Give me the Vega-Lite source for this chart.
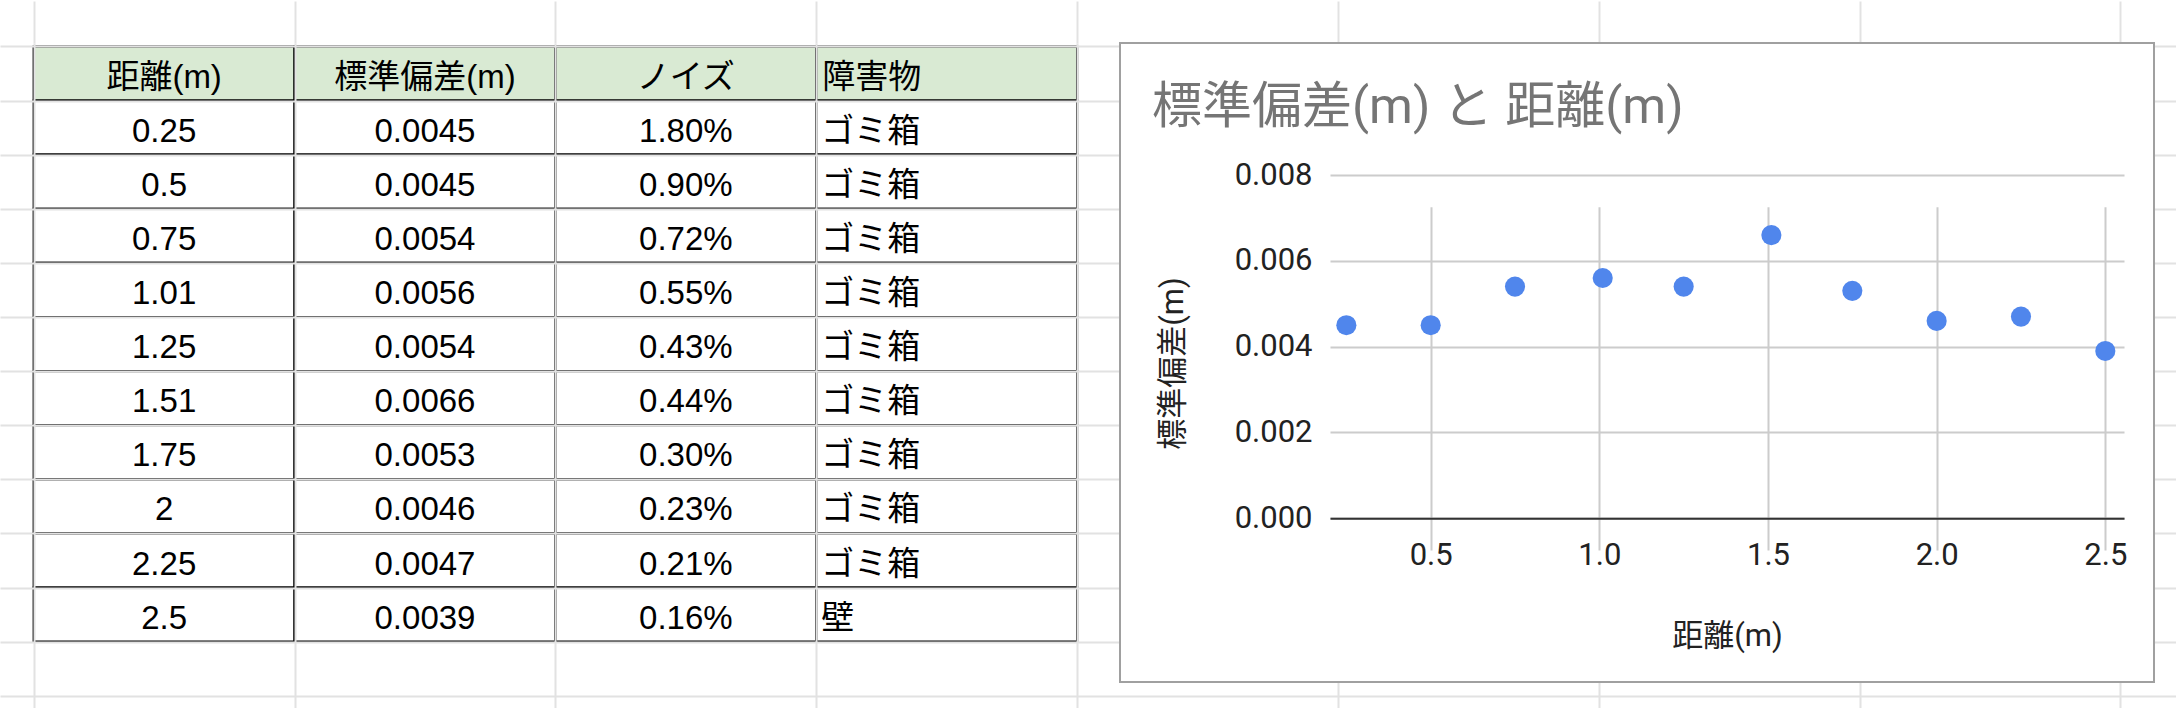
{
  "$schema": "https://vega.github.io/schema/vega-lite/v6.json",
  "background": "white",
  "padding": 0,
  "config": {"view": {"stroke": null}},
  "datasets": {
    "表": [
      {"距離(m)": 0.25, "標準偏差(m)": 0.0045, "ノイズ": 0.018, "障害物": "ゴミ箱"},
      {"距離(m)": 0.5, "標準偏差(m)": 0.0045, "ノイズ": 0.009, "障害物": "ゴミ箱"},
      {"距離(m)": 0.75, "標準偏差(m)": 0.0054, "ノイズ": 0.0072, "障害物": "ゴミ箱"},
      {"距離(m)": 1.01, "標準偏差(m)": 0.0056, "ノイズ": 0.0055, "障害物": "ゴミ箱"},
      {"距離(m)": 1.25, "標準偏差(m)": 0.0054, "ノイズ": 0.0043, "障害物": "ゴミ箱"},
      {"距離(m)": 1.51, "標準偏差(m)": 0.0066, "ノイズ": 0.0044, "障害物": "ゴミ箱"},
      {"距離(m)": 1.75, "標準偏差(m)": 0.0053, "ノイズ": 0.003, "障害物": "ゴミ箱"},
      {"距離(m)": 2, "標準偏差(m)": 0.0046, "ノイズ": 0.0023, "障害物": "ゴミ箱"},
      {"距離(m)": 2.25, "標準偏差(m)": 0.0047, "ノイズ": 0.0021, "障害物": "ゴミ箱"},
      {"距離(m)": 2.5, "標準偏差(m)": 0.0039, "ノイズ": 0.0016, "障害物": "壁"}
    ],
    "見出し": [
      {"見出し": "距離(m)"},
      {"見出し": "標準偏差(m)"},
      {"見出し": "ノイズ"},
      {"見出し": "障害物"}
    ]
  },
  "bounds": "flush",
  "spacing": 0,
  "hconcat": [
    {
      "width": 1120,
      "height": 665,
      "layer": [
        {
          "data": {"name": "見出し"},
          "mark": {"type": "rect", "fill": "#d9ead3", "stroke": "#000000", "strokeWidth": 2.2},
          "encoding": {
            "x": {"field": "見出し", "type": "nominal",
              "scale": {"type": "band", "domain": ["距離(m)", "標準偏差(m)", "ノイズ", "障害物", "F", "G", "H", "I"], "range": [0, 2176], "paddingInner": 0, "paddingOuter": 0.171, "align": 0.3778},
              "axis": {"orient": "top", "title": null, "labels": false, "domain": false, "ticks": true, "tickSize": 42, "tickWidth": 2, "tickColor": "#e2e2e2", "tickBand": "extent", "grid": true, "gridColor": "#e2e2e2", "gridWidth": 2, "minExtent": 0}},
            "y": {"datum": 0, "type": "ordinal",
              "scale": {"type": "band", "domain": [0, 1, 2, 3, 4, 5, 6, 7, 8, 9, 10, 11], "paddingInner": 0, "paddingOuter": 0.146, "align": 0.2215},
              "axis": {"title": null, "labels": false, "domain": false, "ticks": false, "tickBand": "extent", "grid": true, "gridColor": "#e2e2e2", "gridWidth": 2, "minExtent": 0, "maxExtent": 0}}
          }
        },
        {
          "data": {"name": "表"},
          "transform": [
            {"window": [{"op": "row_number", "as": "行"}]},
            {"fold": ["距離(m)", "標準偏差(m)", "ノイズ", "障害物"], "as": ["列", "値"]}
          ],
          "mark": {"type": "rect", "fill": "white", "stroke": "#000000", "strokeWidth": 2.2},
          "encoding": {
            "x": {"field": "列", "type": "nominal",
              "scale": {"type": "band", "domain": ["距離(m)", "標準偏差(m)", "ノイズ", "障害物", "F", "G", "H", "I"], "range": [0, 2176], "paddingInner": 0, "paddingOuter": 0.171, "align": 0.3778},
              "axis": {"orient": "top", "title": null, "labels": false, "domain": false, "ticks": true, "tickSize": 42, "tickWidth": 2, "tickColor": "#e2e2e2", "tickBand": "extent", "grid": true, "gridColor": "#e2e2e2", "gridWidth": 2, "minExtent": 0}},
            "y": {"field": "行", "type": "ordinal",
              "scale": {"type": "band", "domain": [0, 1, 2, 3, 4, 5, 6, 7, 8, 9, 10, 11], "paddingInner": 0, "paddingOuter": 0.146, "align": 0.2215},
              "axis": {"title": null, "labels": false, "domain": false, "ticks": false, "tickBand": "extent", "grid": true, "gridColor": "#e2e2e2", "gridWidth": 2, "minExtent": 0, "maxExtent": 0}}
          }
        },
        {
          "data": {"name": "見出し"},
          "transform": [{"filter": "datum['見出し'] !== '障害物'"}],
          "mark": {"type": "text", "font": "Liberation Sans, Noto Sans CJK JP", "fontSize": 33, "color": "#000000", "baseline": "alphabetic", "dy": -13},
          "encoding": {
            "x": {"field": "見出し", "type": "nominal",
              "scale": {"type": "band", "domain": ["距離(m)", "標準偏差(m)", "ノイズ", "障害物", "F", "G", "H", "I"], "range": [0, 2176], "paddingInner": 0, "paddingOuter": 0.171, "align": 0.3778},
              "axis": {"orient": "top", "title": null, "labels": false, "domain": false, "ticks": true, "tickSize": 42, "tickWidth": 2, "tickColor": "#e2e2e2", "tickBand": "extent", "grid": true, "gridColor": "#e2e2e2", "gridWidth": 2, "minExtent": 0}},
            "y": {"datum": 0, "type": "ordinal", "bandPosition": 1,
              "scale": {"type": "band", "domain": [0, 1, 2, 3, 4, 5, 6, 7, 8, 9, 10, 11], "paddingInner": 0, "paddingOuter": 0.146, "align": 0.2215},
              "axis": {"title": null, "labels": false, "domain": false, "ticks": false, "tickBand": "extent", "grid": true, "gridColor": "#e2e2e2", "gridWidth": 2, "minExtent": 0, "maxExtent": 0}},
            "text": {"field": "見出し", "type": "nominal"}
          }
        },
        {
          "data": {"name": "見出し"},
          "transform": [{"filter": "datum['見出し'] === '障害物'"}],
          "mark": {"type": "text", "font": "Liberation Sans, Noto Sans CJK JP", "fontSize": 33, "color": "#000000", "align": "left", "dx": 6, "baseline": "alphabetic", "dy": -13},
          "encoding": {
            "x": {"field": "見出し", "type": "nominal", "bandPosition": 0,
              "scale": {"type": "band", "domain": ["距離(m)", "標準偏差(m)", "ノイズ", "障害物", "F", "G", "H", "I"], "range": [0, 2176], "paddingInner": 0, "paddingOuter": 0.171, "align": 0.3778},
              "axis": {"orient": "top", "title": null, "labels": false, "domain": false, "ticks": true, "tickSize": 42, "tickWidth": 2, "tickColor": "#e2e2e2", "tickBand": "extent", "grid": true, "gridColor": "#e2e2e2", "gridWidth": 2, "minExtent": 0}},
            "y": {"datum": 0, "type": "ordinal", "bandPosition": 1,
              "scale": {"type": "band", "domain": [0, 1, 2, 3, 4, 5, 6, 7, 8, 9, 10, 11], "paddingInner": 0, "paddingOuter": 0.146, "align": 0.2215},
              "axis": {"title": null, "labels": false, "domain": false, "ticks": false, "tickBand": "extent", "grid": true, "gridColor": "#e2e2e2", "gridWidth": 2, "minExtent": 0, "maxExtent": 0}},
            "text": {"field": "見出し", "type": "nominal"}
          }
        },
        {
          "data": {"name": "表"},
          "transform": [
            {"window": [{"op": "row_number", "as": "行"}]},
            {"fold": ["距離(m)", "標準偏差(m)"], "as": ["列", "値"]}
          ],
          "mark": {"type": "text", "font": "Liberation Sans, Noto Sans CJK JP", "fontSize": 33, "color": "#000000", "baseline": "alphabetic", "dy": -13},
          "encoding": {
            "x": {"field": "列", "type": "nominal",
              "scale": {"type": "band", "domain": ["距離(m)", "標準偏差(m)", "ノイズ", "障害物", "F", "G", "H", "I"], "range": [0, 2176], "paddingInner": 0, "paddingOuter": 0.171, "align": 0.3778},
              "axis": {"orient": "top", "title": null, "labels": false, "domain": false, "ticks": true, "tickSize": 42, "tickWidth": 2, "tickColor": "#e2e2e2", "tickBand": "extent", "grid": true, "gridColor": "#e2e2e2", "gridWidth": 2, "minExtent": 0}},
            "y": {"field": "行", "type": "ordinal", "bandPosition": 1,
              "scale": {"type": "band", "domain": [0, 1, 2, 3, 4, 5, 6, 7, 8, 9, 10, 11], "paddingInner": 0, "paddingOuter": 0.146, "align": 0.2215},
              "axis": {"title": null, "labels": false, "domain": false, "ticks": false, "tickBand": "extent", "grid": true, "gridColor": "#e2e2e2", "gridWidth": 2, "minExtent": 0, "maxExtent": 0}},
            "text": {"field": "値", "type": "nominal"}
          }
        },
        {
          "data": {"name": "表"},
          "transform": [{"window": [{"op": "row_number", "as": "行"}]}],
          "mark": {"type": "text", "font": "Liberation Sans, Noto Sans CJK JP", "fontSize": 33, "color": "#000000", "baseline": "alphabetic", "dy": -13},
          "encoding": {
            "x": {"datum": "ノイズ", "type": "nominal",
              "scale": {"type": "band", "domain": ["距離(m)", "標準偏差(m)", "ノイズ", "障害物", "F", "G", "H", "I"], "range": [0, 2176], "paddingInner": 0, "paddingOuter": 0.171, "align": 0.3778},
              "axis": {"orient": "top", "title": null, "labels": false, "domain": false, "ticks": true, "tickSize": 42, "tickWidth": 2, "tickColor": "#e2e2e2", "tickBand": "extent", "grid": true, "gridColor": "#e2e2e2", "gridWidth": 2, "minExtent": 0}},
            "y": {"field": "行", "type": "ordinal", "bandPosition": 1,
              "scale": {"type": "band", "domain": [0, 1, 2, 3, 4, 5, 6, 7, 8, 9, 10, 11], "paddingInner": 0, "paddingOuter": 0.146, "align": 0.2215},
              "axis": {"title": null, "labels": false, "domain": false, "ticks": false, "tickBand": "extent", "grid": true, "gridColor": "#e2e2e2", "gridWidth": 2, "minExtent": 0, "maxExtent": 0}},
            "text": {"field": "ノイズ", "type": "quantitative", "format": ".2%"}
          }
        },
        {
          "data": {"name": "表"},
          "transform": [{"window": [{"op": "row_number", "as": "行"}]}],
          "mark": {"type": "text", "font": "Liberation Sans, Noto Sans CJK JP", "fontSize": 33, "color": "#000000", "align": "left", "dx": 5, "baseline": "alphabetic", "dy": -13},
          "encoding": {
            "x": {"datum": "障害物", "type": "nominal", "bandPosition": 0,
              "scale": {"type": "band", "domain": ["距離(m)", "標準偏差(m)", "ノイズ", "障害物", "F", "G", "H", "I"], "range": [0, 2176], "paddingInner": 0, "paddingOuter": 0.171, "align": 0.3778},
              "axis": {"orient": "top", "title": null, "labels": false, "domain": false, "ticks": true, "tickSize": 42, "tickWidth": 2, "tickColor": "#e2e2e2", "tickBand": "extent", "grid": true, "gridColor": "#e2e2e2", "gridWidth": 2, "minExtent": 0}},
            "y": {"field": "行", "type": "ordinal", "bandPosition": 1,
              "scale": {"type": "band", "domain": [0, 1, 2, 3, 4, 5, 6, 7, 8, 9, 10, 11], "paddingInner": 0, "paddingOuter": 0.146, "align": 0.2215},
              "axis": {"title": null, "labels": false, "domain": false, "ticks": false, "tickBand": "extent", "grid": true, "gridColor": "#e2e2e2", "gridWidth": 2, "minExtent": 0, "maxExtent": 0}},
            "text": {"field": "障害物", "type": "nominal"}
          }
        }
      ]
    },
    {
      "width": 1034,
      "height": 639,
      "view": {"fill": "white", "stroke": "#a0a0a0", "strokeWidth": 2},
      "title": {
        "text": "標準偏差(m) と 距離(m)",
        "anchor": "start",
        "frame": "group",
        "offset": -130,
        "dx": 32,
        "baseline": "alphabetic",
        "font": "Roboto, Noto Sans CJK JP",
        "fontSize": 50,
        "fontWeight": "normal",
        "color": "#757575"
      },
      "data": {"name": "表"},
      "mark": {"type": "circle", "size": 405, "color": "#5086ec", "opacity": 1},
      "encoding": {
        "x": {
          "field": "距離(m)",
          "type": "quantitative",
          "scale": {"domain": [0.2015, 2.5554], "range": [210, 1004], "nice": false, "zero": false},
          "axis": {
            "orient": "bottom",
            "offset": -163.7,
            "values": [0.5, 1, 1.5, 2, 2.5],
            "format": ".1f",
            "grid": true,
            "gridColor": "#cccccc",
            "gridWidth": 2,
            "domain": true,
            "domainColor": "#333333",
            "domainWidth": 2,
            "ticks": false,
            "tickSize": 0,
            "labelFont": "Roboto",
            "labelFontSize": 31,
            "labelColor": "#222222",
            "labelPadding": 22.5,
            "title": "距離(m)",
            "titleFont": "Roboto, Noto Sans CJK JP",
            "titleFontSize": 31,
            "titleFontWeight": "normal",
            "titleColor": "#222222",
            "titleY": 127,
            "titleBaseline": "alphabetic"
          }
        },
        "y": {
          "field": "標準偏差(m)",
          "type": "quantitative",
          "scale": {"domain": [0, 0.008], "range": [475.3, 132], "nice": false, "zero": true},
          "axis": {
            "orient": "left",
            "offset": -210,
            "values": [0, 0.002, 0.004, 0.006, 0.008],
            "format": ".3f",
            "grid": true,
            "gridColor": "#cccccc",
            "gridWidth": 2,
            "domain": false,
            "ticks": false,
            "tickSize": 0,
            "labelFont": "Roboto",
            "labelFontSize": 31,
            "labelColor": "#222222",
            "labelPadding": 18,
            "title": "標準偏差(m)",
            "titleFont": "Roboto, Noto Sans CJK JP",
            "titleFontSize": 31,
            "titleFontWeight": "normal",
            "titleColor": "#222222",
            "titleAngle": -90,
            "titleAlign": "center",
            "titleBaseline": "middle",
            "titleX": -157,
            "titleY": 320
          }
        }
      }
    }
  ]
}
